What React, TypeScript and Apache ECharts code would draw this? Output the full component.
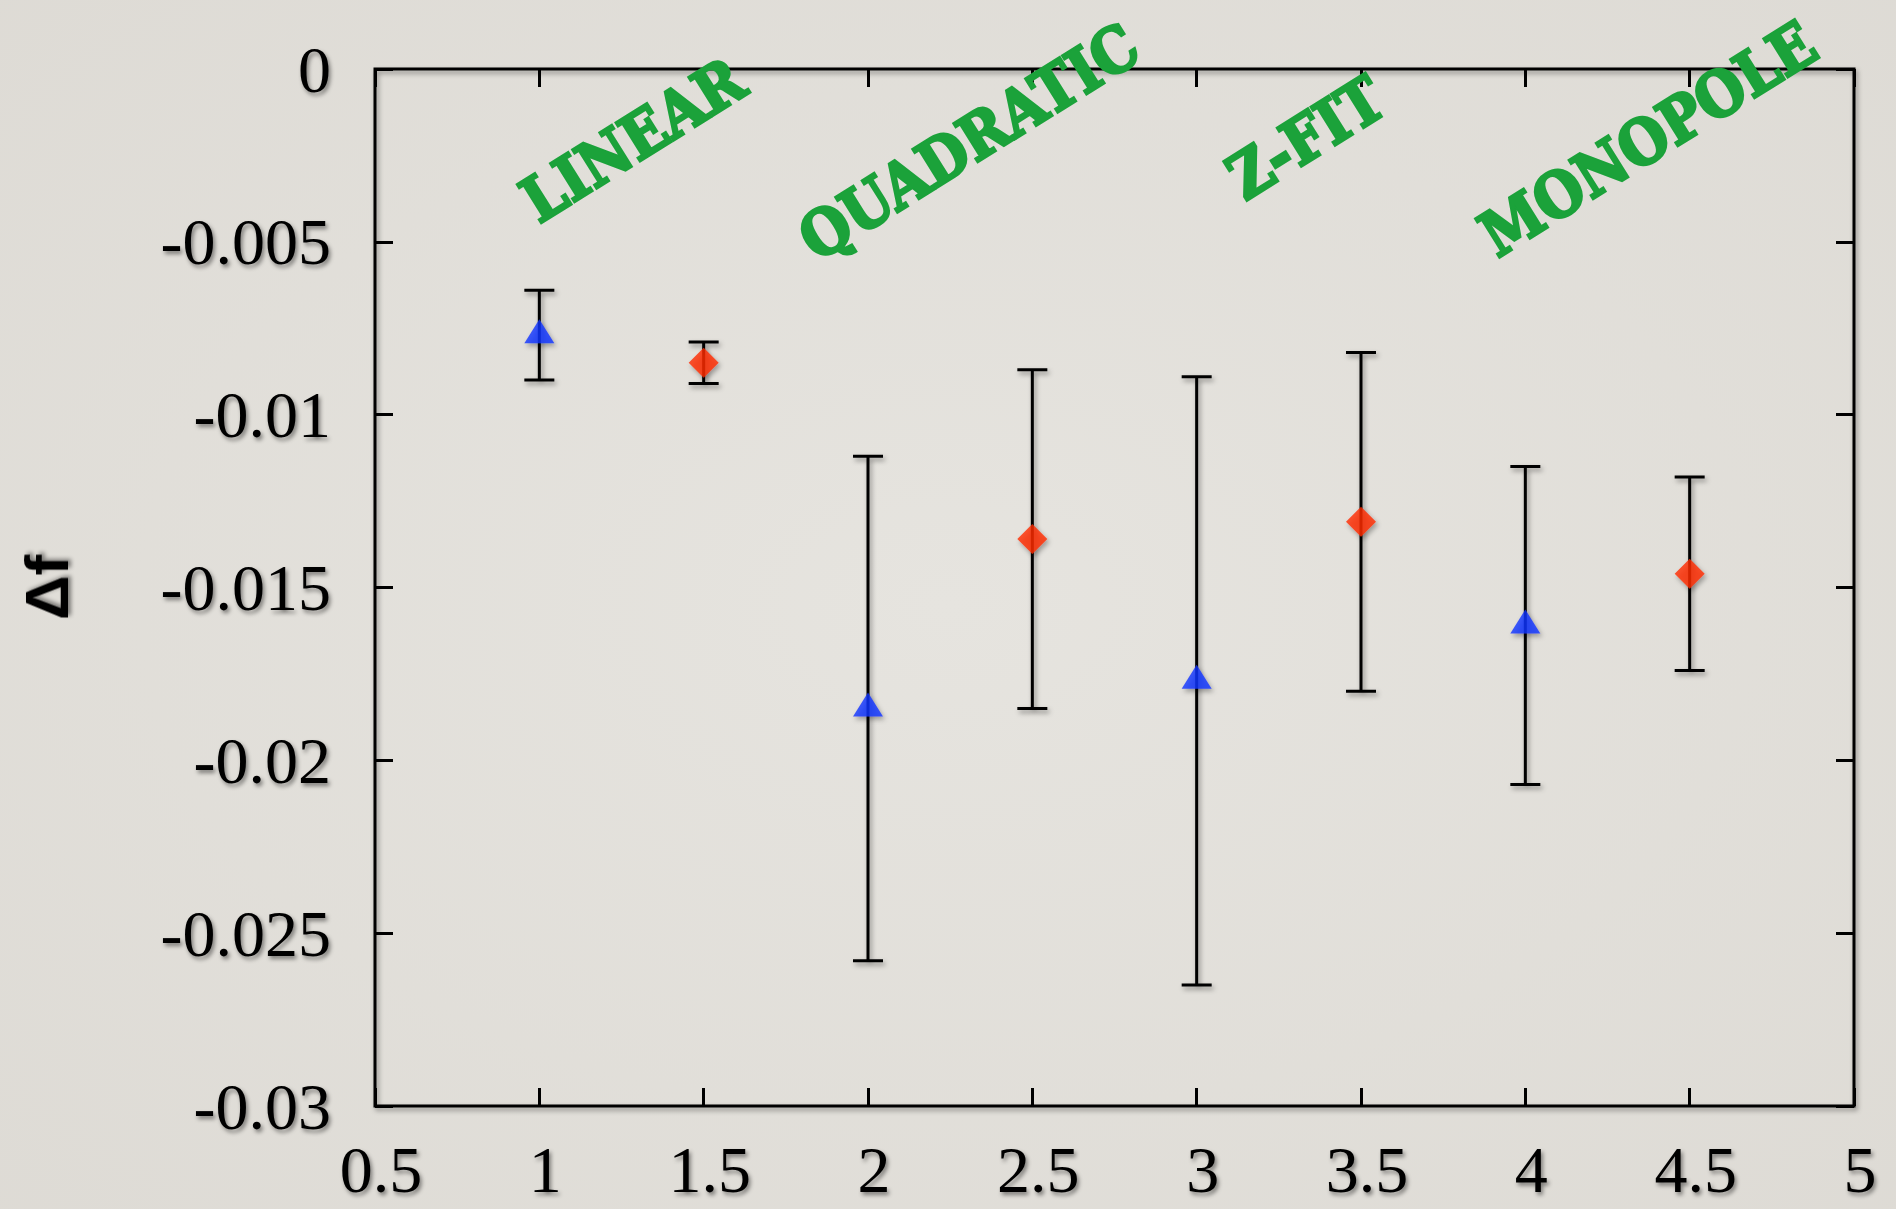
import React, { useEffect, useRef } from "react";
import * as echarts from "echarts";

// Δf for each fit method: blue triangles at integer x, red diamonds at half-integer x
const triangleX = [1, 2, 3, 4];
const triangleValue = [-0.0077, -0.0185, -0.0177, -0.0161];
const triangleError = [0.0013, 0.0073, 0.0088, 0.0046];

const diamondX = [1.5, 2.5, 3.5, 4.5];
const diamondValue = [-0.0085, -0.0136, -0.0131, -0.0146];
const diamondError = [0.0006, 0.0049, 0.0049, 0.0028];

const methodNames = ["LINEAR", "QUADRATIC", "Z-FIT", "MONOPOLE"];
const methodLabelX = [633, 969, 1306, 1648];
const methodLabelY = [140, 142, 138, 139];

const xTicks = { min: 0.5, max: 5, interval: 0.5 };
const yTicks = { min: -0.03, max: 0, interval: 0.005 };

const W = 1896;
const H = 1209;

const shadow = {
  shadowColor: "rgba(0,0,0,0.4)",
  shadowBlur: 5,
  shadowOffsetX: 2,
  shadowOffsetY: 3,
};

const labelShadow = {
  textShadowColor: "rgba(0,0,0,0.45)",
  textShadowBlur: 4,
  textShadowOffsetX: 2,
  textShadowOffsetY: 3,
};

export default function App() {
  const ref = useRef<HTMLDivElement>(null);

  useEffect(() => {
    if (!ref.current) return;
    const chart = echarts.init(ref.current, undefined, { renderer: "svg" });

    const errorData = [
      ...triangleX.map((x, i) => [x, triangleValue[i] - triangleError[i], triangleValue[i] + triangleError[i]]),
      ...diamondX.map((x, i) => [x, diamondValue[i] - diamondError[i], diamondValue[i] + diamondError[i]]),
    ];

    // the frame itself is the grid border; axes only contribute inward ticks
    const axisLine = { show: false, onZero: false };
    const axisTick = {
      show: true,
      inside: true,
      length: 18,
      lineStyle: { color: "#000", width: 3 },
    };

    const tickFont = {
      fontFamily: '"Liberation Serif", serif',
      fontSize: 66,
      color: "#000",
      ...labelShadow,
    };

    chart.setOption({
      animation: false,
      backgroundColor: {
        type: "radial",
        x: 0.5,
        y: 0.5,
        r: 0.85,
        colorStops: [
          { offset: 0, color: "#e6e4df" },
          { offset: 1, color: "#dcd9d3" },
        ],
      },
      grid: {
        left: 375,
        top: 69,
        right: W - 1854,
        bottom: H - 1106,
        containLabel: false,
        show: true,
        backgroundColor: "transparent",
        borderColor: "#000",
        borderWidth: 3,
        ...shadow,
      },
      xAxis: [
        {
          type: "value",
          position: "bottom",
          ...xTicks,
          axisLine,
          axisTick,
          splitLine: { show: false },
          axisLabel: {
            ...tickFont,
            margin: 30,
            padding: [0, 0, 0, 12],
            formatter: (v: number) => String(Number(v.toFixed(1))),
          },
        },
        {
          type: "value",
          position: "top",
          ...xTicks,
          axisLine,
          axisTick,
          splitLine: { show: false },
          axisLabel: { show: false },
        },
      ],
      yAxis: [
        {
          type: "value",
          position: "left",
          ...yTicks,
          axisLine,
          axisTick,
          splitLine: { show: false },
          axisLabel: { ...tickFont, margin: 44, formatter: (v: number) => String(Number(v.toFixed(3))) },
          name: "Δf",
          nameLocation: "middle",
          nameRotate: 90,
          nameGap: 298,
          nameTextStyle: {
            fontFamily: '"Liberation Sans", sans-serif',
            fontWeight: "bold",
            fontSize: 62,
            color: "#000",
            ...labelShadow,
          },
        },
        {
          type: "value",
          position: "right",
          ...yTicks,
          axisLine,
          axisTick,
          splitLine: { show: false },
          axisLabel: { show: false },
        },
      ],
      series: [
        {
          type: "custom",
          name: "error",
          z: 2,
          encode: { x: 0, y: [1, 2] },
          data: errorData,
          renderItem: (params: any, api: any) => {
            const x = api.value(0);
            const lo = api.coord([x, api.value(1)]);
            const hi = api.coord([x, api.value(2)]);
            const half = 15;
            const d =
              `M ${lo[0] - half} ${lo[1]} L ${lo[0] + half} ${lo[1]} ` +
              `M ${lo[0]} ${lo[1]} L ${hi[0]} ${hi[1]} ` +
              `M ${hi[0] - half} ${hi[1]} L ${hi[0] + half} ${hi[1]}`;
            return {
              type: "path",
              shape: { pathData: d },
              style: { fill: "none", stroke: "#000", lineWidth: 3, ...shadow },
            };
          },
        },
        {
          type: "scatter",
          name: "triangle",
          z: 3,
          symbol: "triangle",
          symbolSize: [30, 24],
          symbolOffset: [0, -4],
          itemStyle: { color: "#1432ff", ...shadow },
          data: triangleX.map((x, i) => [x, triangleValue[i]]),
        },
        {
          type: "scatter",
          name: "diamond",
          z: 3,
          symbol: "diamond",
          symbolSize: [30, 30],
          itemStyle: { color: "#ff2a00", ...shadow },
          data: diamondX.map((x, i) => [x, diamondValue[i]]),
        },
      ],
      graphic: methodNames.map((name, i) => ({
        type: "text",
        x: methodLabelX[i],
        y: methodLabelY[i],
        rotation: (32 * Math.PI) / 180,
        scaleX: 0.9,
        z: 100,
        style: {
          text: name,
          fill: "#1ba23a",
          stroke: "#1ba23a",
          lineWidth: 3,
          font: 'bold 62px "DejaVu Serif", serif',
          align: "center",
          verticalAlign: "middle",
          textAlign: "center",
          textVerticalAlign: "middle",
        },
      })),
    });

    return () => chart.dispose();
  }, []);

  return <div ref={ref} style={{ position: "fixed", left: 0, top: 0, width: W, height: H }} />;
}
